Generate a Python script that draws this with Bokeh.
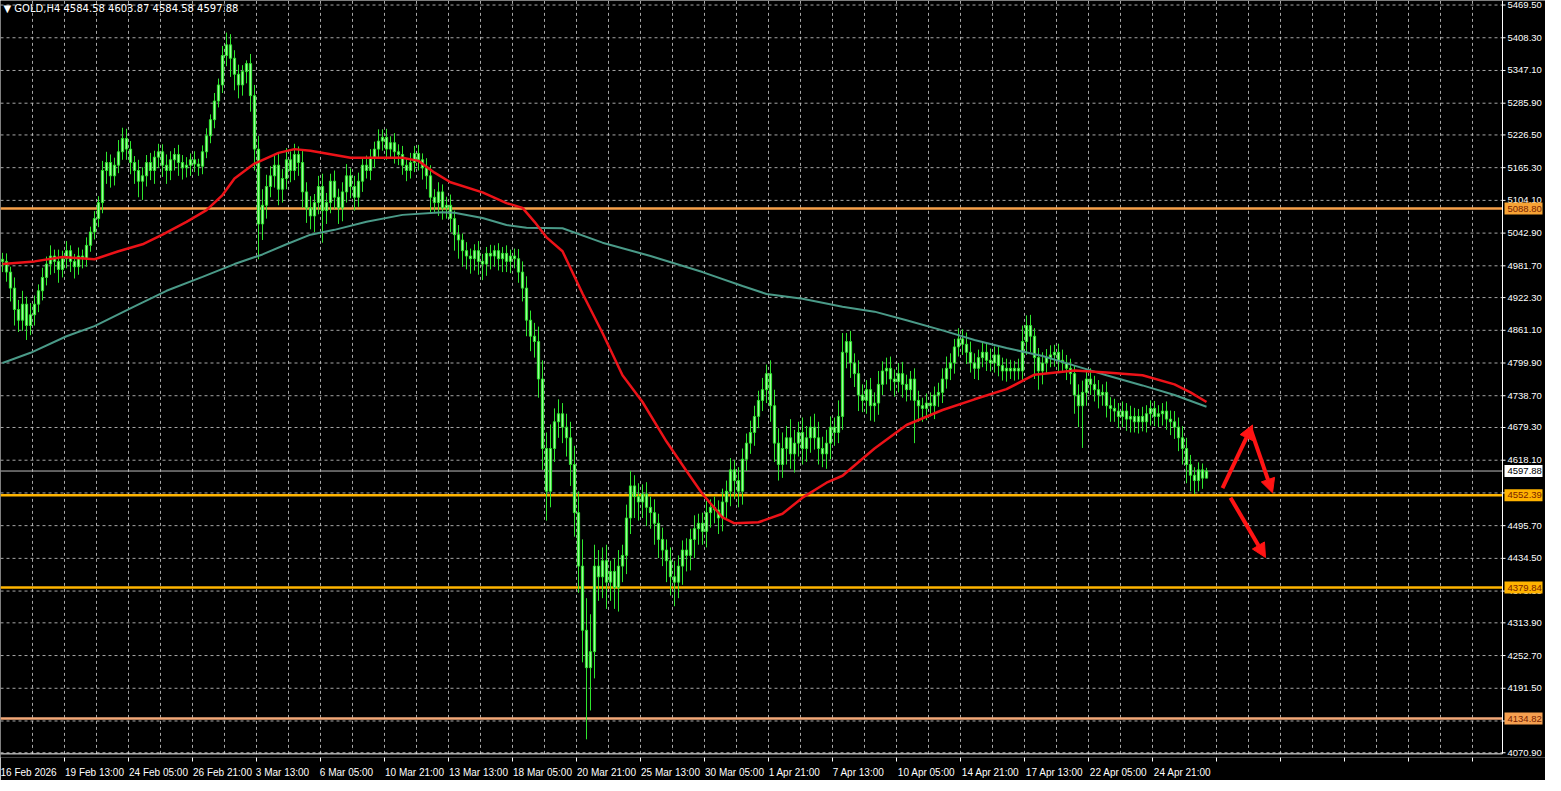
from bokeh.plotting import figure
from bokeh.models import FixedTicker, ColumnDataSource, Range1d, Arrow, NormalHead
from bokeh.core.properties import value
from bokeh.embed import file_html
from bokeh.resources import INLINE

# ---------------- data ----------------
first_open = 4994.0
closes = [
 4990, 4970, 4940, 4900, 4880, 4910, 4870, 4890, 4910, 4935,
 4960, 4985, 5000, 4990, 4975, 4995, 5010, 4990, 4980, 5000,
 4995, 5020, 5045, 5070, 5100, 5160, 5175, 5150, 5170, 5195,
 5220, 5200, 5175, 5160, 5140, 5150, 5175, 5160, 5185, 5195,
 5170, 5160, 5180, 5190, 5175, 5165, 5170, 5180, 5172, 5168,
 5195, 5225, 5255, 5290, 5320, 5375, 5395, 5370, 5340, 5320,
 5345, 5360, 5300, 5200, 5060, 5095, 5130, 5150, 5170, 5125,
 5145, 5180, 5160, 5190, 5175, 5120, 5090, 5075, 5100, 5130,
 5085, 5100, 5140, 5110, 5090, 5120, 5150, 5130, 5110, 5140,
 5170, 5160, 5185, 5200, 5215, 5222, 5200, 5212, 5195, 5190,
 5170, 5160, 5175, 5192, 5180, 5165, 5150, 5110, 5100, 5120,
 5090, 5095, 5070, 5040, 5030, 5010, 5000, 4995, 5010, 4990,
 4985, 5005, 5000, 5010, 4995, 5005, 4990, 5000, 4995, 4970,
 4940, 4880, 4850, 4840, 4770, 4640, 4560, 4640, 4690, 4705,
 4680, 4660, 4610, 4520, 4420, 4300, 4230, 4260, 4420, 4400,
 4430, 4390, 4410, 4380, 4420, 4440, 4510, 4570, 4550, 4540,
 4555, 4530, 4520, 4500, 4470, 4450, 4430, 4400, 4390, 4420,
 4450, 4440, 4470, 4490, 4500, 4485, 4520, 4530, 4525, 4510,
 4540, 4560, 4600, 4580, 4560, 4620, 4650, 4670, 4700, 4730,
 4750, 4780, 4720, 4650, 4610, 4640, 4660, 4630, 4650, 4670,
 4640, 4660, 4680, 4660, 4640, 4630, 4650, 4680, 4670, 4700,
 4820, 4840, 4800, 4780, 4740, 4730, 4750, 4720, 4725, 4760,
 4785, 4790, 4770, 4765, 4780, 4760, 4750, 4770, 4730, 4720,
 4715, 4725, 4720, 4740, 4745, 4770, 4790, 4800, 4830, 4845,
 4835, 4820, 4800, 4790, 4810, 4820, 4805, 4800, 4815, 4795,
 4785, 4790, 4785, 4790, 4785, 4840, 4870, 4850, 4810, 4785,
 4800, 4810, 4815, 4820, 4805, 4800, 4790, 4780, 4740, 4720,
 4745, 4770, 4760, 4750, 4740, 4745, 4720, 4715, 4710, 4700,
 4710, 4695, 4700, 4690, 4700, 4690, 4705, 4715, 4700, 4705,
 4710, 4695, 4690, 4680, 4660, 4640, 4610, 4590, 4580, 4600,
 4584.58, 4597.88,
]
upper_wick = [
 12, 15, 10, 20, 18, 25, 14, 22, 16, 12,
 18, 14, 20, 12, 22, 15, 18, 10, 14, 16,
 12, 15, 10, 14, 12, 18, 20, 15, 14, 22,
 20, 18, 15, 12, 20, 16, 14, 18, 12, 15,
 14, 20, 16, 12, 18, 14, 15, 12, 16, 10,
 12, 14, 10, 15, 12, 18, 23, 20, 15, 18,
 12, 6, 18, 20, 25, 30, 22, 18, 20, 24,
 18, 22, 16, 20, 15, 25, 18, 22, 16, 20,
 24, 18, 14, 20, 16, 18, 22, 14, 20, 16,
 12, 18, 15, 14, 22, 15, 16, 12, 18, 14,
 16, 12, 18, 14, 16, 12, 18, 20, 15, 18,
 14, 16, 20, 15, 18, 12, 16, 14, 12, 18,
 14, 12, 16, 10, 14, 12, 15, 12, 14, 18,
 20, 22, 18, 25, 28, 35, 30, 45, 25, 27,
 20, 25, 30, 35, 40, 50, 60, 70, 40, 30,
 25, 30, 20, 25, 30, 20, 25, 28, 20, 25,
 18, 22, 20, 25, 18, 22, 20, 25, 30, 20,
 18, 22, 20, 25, 18, 20, 22, 15, 20, 18,
 25, 20, 22, 18, 25, 20, 18, 22, 20, 18,
 22, 17, 25, 30, 28, 30, 22, 35, 25, 20,
 28, 22, 20, 25, 30, 22, 25, 20, 18, 30,
 36, 16, 20, 18, 25, 20, 18, 22, 20, 25,
 18, 20, 22, 18, 20, 22, 18, 15, 20, 18,
 15, 18, 20, 16, 18, 20, 22, 18, 15, 20,
 18, 22, 20, 18, 15, 20, 18, 22, 16, 18,
 15, 18, 16, 14, 18, 30, 19, 20, 15, 18,
 20, 16, 18, 14, 16, 20, 15, 18, 16, 20,
 22, 18, 20, 16, 18, 15, 20, 16, 18, 15,
 18, 15, 20, 16, 14, 18, 16, 15, 14, 16,
 15, 18, 16, 20, 18, 22, 20, 18, 15, 14,
 12, 6,
]
lower_wick = [
 20, 18, 25, 30, 22, 20, 27, 18, 20, 15,
 18, 15, 20, 22, 25, 15, 18, 20, 22, 15,
 18, 15, 12, 14, 16, 20, 25, 22, 18, 15,
 15, 20, 22, 25, 30, 35, 20, 18, 25, 20,
 22, 25, 18, 20, 25, 22, 18, 20, 15, 18,
 15, 12, 14, 16, 12, 15, 20, 35, 30, 25,
 20, 22, 30, 40, 66, 30, 25, 20, 22, 30,
 25, 20, 22, 18, 25, 30, 28, 25, 30, 22,
 60, 25, 20, 22, 30, 25, 20, 22, 25, 18,
 20, 15, 18, 20, 15, 18, 20, 15, 22, 20,
 18, 20, 15, 18, 20, 22, 25, 28, 20, 25,
 22, 20, 25, 30, 35, 30, 25, 28, 22, 25,
 30, 22, 25, 20, 22, 25, 20, 22, 18, 20,
 25, 30, 28, 30, 35, 40, 55, 30, 25, 30,
 30, 35, 40, 45, 50, 60, 134, 80, 50, 45,
 40, 50, 35, 40, 45, 30, 35, 30, 40, 35,
 30, 35, 30, 40, 35, 30, 40, 35, 45, 30,
 35, 30, 28, 35, 30, 25, 30, 28, 25, 30,
 25, 30, 28, 35, 30, 25, 22, 20, 25, 22,
 20, 25, 30, 35, 30, 25, 30, 28, 35, 25,
 30, 25, 28, 22, 30, 25, 28, 30, 25, 20,
 25, 30, 28, 25, 30, 22, 25, 28, 30, 22,
 20, 25, 22, 28, 20, 25, 22, 20, 80, 30,
 25, 22, 20, 25, 22, 20, 18, 22, 20, 18,
 20, 22, 18, 20, 22, 18, 20, 16, 18, 20,
 18, 20, 15, 18, 16, 20, 25, 30, 40, 35,
 25, 20, 18, 22, 20, 18, 22, 20, 35, 40,
 79, 25, 20, 22, 25, 20, 22, 25, 20, 22,
 20, 22, 25, 20, 22, 18, 20, 22, 18, 20,
 22, 20, 25, 22, 25, 30, 35, 30, 25, 20,
 20, 0,
]

# moving averages (bar index, price)
ma_fast_idx = [0, 8, 15, 23, 29, 35, 40, 46, 51, 55, 58, 63, 69, 73, 77, 87, 100, 104, 108, 112,
               120, 126, 130, 133, 136, 140, 145, 150, 155, 160, 166, 171, 175, 180, 183, 189, 195,
               200, 206, 210, 218, 226, 235, 243, 251, 258, 268, 276, 285, 293, 297, 301]
ma_fast = [4985, 4990, 4998, 4994, 5009, 5022, 5040, 5064, 5086, 5114, 5145, 5173, 5193, 5200, 5197,
           5184, 5184, 5178, 5156, 5138, 5119, 5099, 5090, 5064, 5035, 5009, 4930, 4856, 4777, 4727,
           4653, 4598, 4555, 4511, 4500, 4502, 4518, 4548, 4576, 4589, 4640, 4684, 4712, 4732, 4751,
           4778, 4786, 4782, 4777, 4760, 4745, 4727]
ma_slow_idx = [0, 7, 16, 23, 33, 41, 50, 58, 65, 71, 77, 83, 91, 100, 110, 113, 120, 126, 131, 140,
               150, 162, 175, 185, 191, 200, 210, 218, 226, 235, 243, 251, 260, 268, 276, 285, 293, 301]
ma_slow = [4800, 4819, 4850, 4869, 4906, 4935, 4961, 4985, 5003, 5022, 5040, 5049, 5064, 5077, 5082,
           5081, 5071, 5058, 5053, 5052, 5025, 5000, 4970, 4944, 4929, 4920, 4905, 4896, 4880, 4861,
           4843, 4828, 4813, 4795, 4777, 4758, 4740, 4718]

levels = [5088.80, 4552.39, 4379.84, 4134.82]
level_line_colors = ["#f7a04a", "#ffb400", "#ffb400", "#f2a878"]
level_box_colors = ["#f7a335", "#ffb300", "#ffb300", "#f5a050"]
last_price = 4597.88

price_ticks = [5469.5, 5408.3, 5347.1, 5285.9, 5226.5, 5165.3, 5104.1, 5042.9, 4981.7, 4922.3,
               4861.1, 4799.9, 4738.7, 4679.3, 4618.1, 4556.9, 4495.7, 4434.5, 4373.3, 4313.9,
               4252.7, 4191.5, 4130.3, 4070.9]
time_labels = ["16 Feb 2026", "19 Feb 13:00", "24 Feb 05:00", "26 Feb 21:00", "3 Mar 13:00",
               "6 Mar 05:00", "10 Mar 21:00", "13 Mar 13:00", "18 Mar 05:00", "20 Mar 21:00",
               "25 Mar 13:00", "30 Mar 05:00", "1 Apr 21:00", "7 Apr 13:00", "10 Apr 05:00",
               "14 Apr 21:00", "17 Apr 13:00", "22 Apr 05:00", "24 Apr 21:00"]
header = "\u25BC GOLD,H4  4584.58 4603.87 4584.58 4597.88"

# forecast arrows: (bar start, price start, bar end, price end)
arrows = [(305, 4566, 312.5, 4684), (312, 4677, 317.5, 4557), (307, 4548, 315.75, 4436)]

# ---------------- build ----------------
n = len(closes)
idx = list(range(n))
opens = [first_open] + closes[:-1]
highs = [max(o, c) + u for o, c, u in zip(opens, closes, upper_wick)]
lows = [min(o, c) - l for o, c, l in zip(opens, closes, lower_wick)]
src = ColumnDataSource(dict(x=idx, h=highs, l=lows,
                            top=[max(o, c) for o, c in zip(opens, closes)],
                            bot=[min(o, c) for o, c in zip(opens, closes)]))

FW, FH = 1545, 757
PX = 4.0                      # pixels per bar
X0 = -0.5
X1 = X0 + FW / PX
AX = X0 + 1502 / PX           # position of the price-scale line
YLO, YHI = 4062.0, 5478.0
BOTTOM = 4068.8               # bottom border line of the chart window
FONT = "Liberation Sans"
PFS = "9.5px"

p = figure(frame_width=FW, frame_height=FH, x_range=Range1d(X0, X1), y_range=Range1d(YLO, YHI),
           output_backend="svg", toolbar_location=None,
           background_fill_color="black", border_fill_color="black",
           min_border_left=0, min_border_right=0, min_border_top=0, min_border_bottom=0)
p.outline_line_color = None
p.yaxis.visible = False
p.xgrid.visible = False
p.ygrid.visible = False

# ---- time axis (below) ----
centers, overrides = [], {}
for k, t in enumerate(time_labels):
    c = 6.0 if k == 0 else float(16 * k + (6 if len(t) <= 11 else 7))
    centers.append(c)
    overrides[c] = t
xa = p.xaxis[0]
xa.ticker = FixedTicker(ticks=centers, minor_ticks=[16 * k - 0.5 for k in range(1, 24)])
xa.major_label_overrides = overrides
xa.axis_line_color = None
xa.major_tick_line_color = None
xa.minor_tick_line_color = "white"
xa.minor_tick_in = 0
xa.minor_tick_out = 4
xa.major_label_standoff = 3
xa.major_label_text_color = "white"
xa.major_label_text_font = FONT
xa.major_label_text_font_size = "10px"

# ---- grid (dashed), stopping at the price scale ----
vgrid = [8 * k - 0.5 for k in range(1, 60) if 8 * k - 0.5 < AX]
p.segment(x0=vgrid, y0=[BOTTOM] * len(vgrid), x1=vgrid, y1=[YHI] * len(vgrid),
          line_color="#cfcfcf", line_dash="3 3", line_width=1, line_alpha=0.8)
p.segment(x0=[X0] * len(price_ticks), y0=price_ticks, x1=[AX] * len(price_ticks), y1=price_ticks,
          line_color="#cfcfcf", line_dash="3 3", line_width=1, line_alpha=0.8)

# ---- level lines and bid line ----
p.segment(x0=[X0] * 4, y0=levels, x1=[AX] * 4, y1=levels, line_color=level_line_colors, line_width=2.5)
p.segment(x0=[X0], y0=[last_price], x1=[AX], y1=[last_price], line_color="#bdbdbd", line_width=1)

# ---- candles ----
p.segment(x0="x", y0="l", x1="x", y1="h", source=src, line_color="#2ee62e", line_width=1)
p.vbar(x="x", width=0.55, top="top", bottom="bot", source=src,
       fill_color="#9cff9c", line_color="#2ee62e", line_width=1)

# ---- moving averages ----
p.line(ma_slow_idx, ma_slow, line_color="#4a9a88", line_width=2)
p.line(ma_fast_idx, ma_fast, line_color="#ec1218", line_width=2.5)

# ---- arrows ----
for xs, ys, xe, ye in arrows:
    p.add_layout(Arrow(x_start=xs, y_start=ys, x_end=xe, y_end=ye, line_color="#ff1414", line_width=4,
                       end=NormalHead(size=14, fill_color="#ff1414", line_color="#ff1414")))

# ---- price scale ----
p.segment(x0=[AX], y0=[BOTTOM], x1=[AX], y1=[YHI], line_color="white", line_width=1)
p.segment(x0=[X0], y0=[BOTTOM], x1=[AX], y1=[BOTTOM], line_color="white", line_width=1)
p.segment(x0=[AX] * len(price_ticks), y0=price_ticks, x1=[AX + 3 / PX] * len(price_ticks), y1=price_ticks,
          line_color="white", line_width=1)
p.text(x=[AX] * len(price_ticks), y=price_ticks, text=[f"{t:.2f}" for t in price_ticks], x_offset=5,
       text_font=value(FONT), text_font_size=value(PFS), text_color="white",
       text_align="left", text_baseline="middle")

# boxes on the price scale
box_y = levels + [last_price]
box_fill = level_box_colors + ["white"]
box_text_col = ["#7a2200"] * 4 + ["black"]
p.rect(x=[AX + 21 / PX] * 5, y=box_y, width=38, height=12, width_units="screen", height_units="screen",
       fill_color=box_fill, line_color=None)
p.text(x=[AX] * 5, y=box_y, text=[f"{v:.2f}" for v in box_y], x_offset=5,
       text_font=value(FONT), text_font_size=value(PFS), text_color=box_text_col,
       text_align="left", text_baseline="middle")

# ---- header ----
p.text(x=[X0], y=[YHI], text=[header], x_offset=3, y_offset=2,
       text_font=value("DejaVu Sans"), text_font_size=value("10px"), text_color="white",
       text_align="left", text_baseline="top")

open("out.html", "w").write(file_html(p, INLINE))
